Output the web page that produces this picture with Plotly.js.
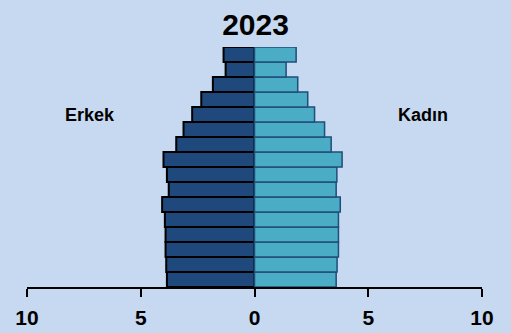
<!DOCTYPE html>
<html>
<head>
<meta charset="utf-8">
<script src="https://cdn.plot.ly/plotly-3.0.1.min.js"></script>
<style>html,body{margin:0;padding:0;background:#c6d9f0;}#chart{width:511px;height:333px;}</style>
</head>
<body>
<div id="chart"></div>
<script>
const ageGroups = ['0-4','5-9','10-14','15-19','20-24','25-29','30-34','35-39','40-44','45-49','50-54','55-59','60-64','65-69','70-74','75+'];
const male = [3.85, 3.88, 3.91, 3.91, 3.94, 4.06, 3.77, 3.85, 4.0, 3.44, 3.12, 2.74, 2.34, 1.83, 1.27, 1.36];
const female = [3.59, 3.63, 3.69, 3.69, 3.69, 3.77, 3.59, 3.62, 3.85, 3.37, 3.08, 2.64, 2.34, 1.90, 1.39, 1.83];
const tickVals = [-10, -5, 0, 5, 10];
const tickText = ['10', '5', '0', '5', '10'];
const titleText = '2023';
const maleLabel = 'Erkek';
const femaleLabel = 'Kadın';

const bg = '#c6d9f0';
const fontFam = '"Liberation Sans", Arial, sans-serif';

const traces = [
  {
    type: 'bar', orientation: 'h', name: maleLabel,
    y: ageGroups, x: male.map(v => -v),
    marker: {color: '#1f497d', line: {color: '#000000', width: 2}},
    hoverinfo: 'skip'
  },
  {
    type: 'bar', orientation: 'h', name: femaleLabel,
    y: ageGroups, x: female,
    marker: {color: '#4bacc6', line: {color: '#1f4e79', width: 1.5}},
    hoverinfo: 'skip'
  }
];

const layout = {
  width: 511, height: 333,
  paper_bgcolor: bg, plot_bgcolor: bg,
  margin: {l: 27, r: 29, t: 47, b: 46},
  showlegend: false,
  barmode: 'overlay', bargap: 0,
  title: {text: titleText, x: 0.5, xanchor: 'center', y: 1 - 24 / 333, yanchor: 'middle',
          font: {family: fontFam, size: 30, color: '#000', weight: 'bold'}},
  xaxis: {
    range: [-10, 10], tickvals: tickVals, ticktext: tickText,
    showgrid: false, zeroline: false,
    showline: true, linecolor: '#000', linewidth: 2,
    ticks: 'outside', ticklen: 8, tickwidth: 2, tickcolor: '#000',
    ticklabelstandoff: 3,
    tickfont: {family: fontFam, size: 21, color: '#000', weight: 'bold'},
    fixedrange: true
  },
  yaxis: {
    type: 'category', visible: false, showgrid: false, zeroline: false, fixedrange: true
  },
  annotations: [
    {text: maleLabel, xref: 'paper', yref: 'paper', x: (90 - 27) / 455, y: (287 - 115) / 240,
     showarrow: false, xanchor: 'center', yanchor: 'middle',
     font: {family: fontFam, size: 18, color: '#000', weight: 'bold'}},
    {text: femaleLabel, xref: 'paper', yref: 'paper', x: (423 - 27) / 455, y: (287 - 115) / 240,
     showarrow: false, xanchor: 'center', yanchor: 'middle',
     font: {family: fontFam, size: 18, color: '#000', weight: 'bold'}}
  ]
};

Plotly.newPlot('chart', traces, layout, {displayModeBar: false, staticPlot: true});
</script>
</body>
</html>
